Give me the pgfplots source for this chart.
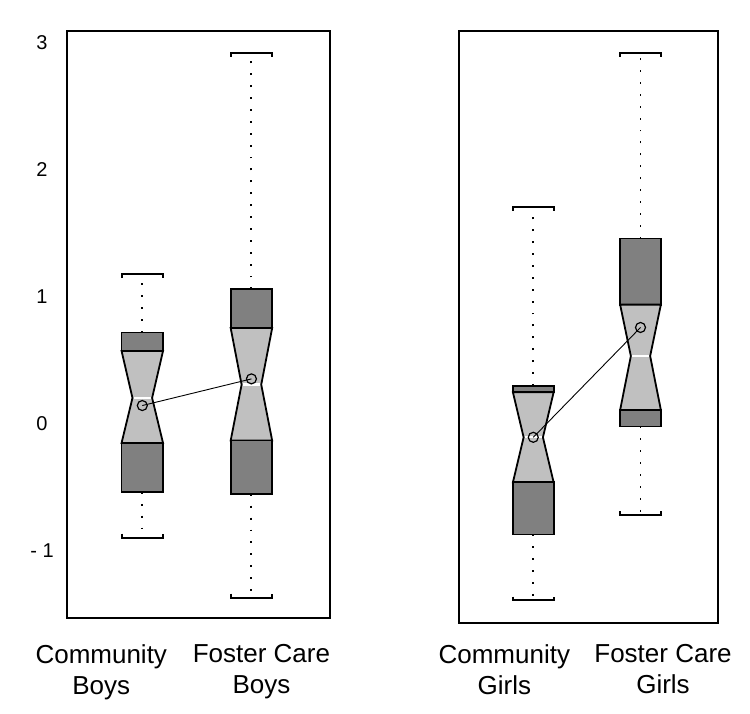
\documentclass[border=0pt]{standalone}
\usepackage{pgfplots}
\pgfplotsset{compat=1.18}
\usepackage{fontspec}
\setmainfont{Liberation Sans}
\definecolor{dk}{RGB}{128,128,128}
\definecolor{lt}{RGB}{192,192,192}
\pgfplotsset{
  panel/.style={scale only axis, anchor=south west, xmin=0.31, xmax=2.72,
    axis line style={line width=2pt}, major tick length=0pt, clip=false,
    xtick pos=bottom,
    xticklabel style={font=\fontsize{26}{31.5}\selectfont, align=center, anchor=north, inner sep=0pt}},
  dkb/.style={fill=dk, draw=black, line width=1.8pt},
  ltb/.style={fill=lt, draw=black, line width=1.8pt},
  whisk/.style={black, line width=1.9pt, dash pattern=on 1.9pt off 10pt},
  capst/.style={black, line width=2pt},
  med/.style={white, line width=2.2pt},
  meanl/.style={black, line width=0.9pt},
  meanm/.style={only marks, mark=o, mark size=5pt, mark options={black, line width=1.2pt}},
}
\begin{document}
\begin{tikzpicture}
\useasboundingbox (0pt,0pt) rectangle (750pt,714pt);
% ---------------- left panel: boys ----------------
\begin{axis}[panel, at={(67pt,96pt)}, width=263pt, height=587.3pt,
  ymin=-1.528, ymax=3.097,
  ytick={-1,0,1,2,3}, yticklabels={- 1,0,1,2,3},
  yticklabel style={font=\fontsize{20}{22}\selectfont, anchor=center, xshift=-25pt, inner sep=0pt},
  xtick={0.624,2.092}, xticklabels={Community\\Boys,Foster Care\\Boys},
  xticklabel style={yshift=-26pt}]
% whiskers
\addplot[whisk] coordinates {(1,0.72) (1,1.18)};
\addplot[whisk] coordinates {(1,-0.535) (1,-0.895)};
\addplot[whisk] coordinates {(2,1.06) (2,2.924)};
\addplot[whisk] coordinates {(2,-0.55) (2,-1.368)};
% caps
\addplot[capst] coordinates {(0.81,1.149) (0.81,1.18) (1.19,1.18) (1.19,1.149)};
\addplot[capst] coordinates {(0.81,-0.864) (0.81,-0.895) (1.19,-0.895) (1.19,-0.864)};
\addplot[capst] coordinates {(1.81,2.893) (1.81,2.924) (2.19,2.924) (2.19,2.893)};
\addplot[capst] coordinates {(1.81,-1.337) (1.81,-1.368) (2.19,-1.368) (2.19,-1.337)};
% Community Boys
\addplot[dkb] coordinates {(0.81,0.575) (0.81,0.72) (1.19,0.72) (1.19,0.575)} -- cycle;
\addplot[ltb] coordinates {(0.81,0.575) (0.91,0.205) (0.81,-0.15) (1.19,-0.15) (1.09,0.205) (1.19,0.575)} -- cycle;
\addplot[dkb] coordinates {(0.81,-0.535) (0.81,-0.15) (1.19,-0.15) (1.19,-0.535)} -- cycle;
\addplot[med] coordinates {(0.92,0.205) (1.08,0.205)};
% Foster Care Boys
\addplot[dkb] coordinates {(1.81,0.755) (1.81,1.06) (2.19,1.06) (2.19,0.755)} -- cycle;
\addplot[ltb] coordinates {(1.81,0.755) (1.91,0.31) (1.81,-0.13) (2.19,-0.13) (2.09,0.31) (2.19,0.755)} -- cycle;
\addplot[dkb] coordinates {(1.81,-0.55) (1.81,-0.13) (2.19,-0.13) (2.19,-0.55)} -- cycle;
\addplot[med] coordinates {(1.92,0.31) (2.08,0.31)};
% means
\addplot[meanl] coordinates {(1,0.145) (2,0.355)};
\addplot[meanm] coordinates {(1,0.145) (2,0.355)};
\end{axis}
% ---------------- right panel: girls ----------------
\begin{axis}[panel, at={(459.3pt,91.3pt)}, width=258.4pt, height=591.7pt,
  ymin=-1.565, ymax=3.095, ytick=\empty,
  xtick={0.73,2.21}, xticklabels={Community\\Girls,Foster Care\\Girls},
  xticklabel style={yshift=-21.3pt}]
% whiskers
\addplot[whisk] coordinates {(1,0.30) (1,1.71)};
\addplot[whisk] coordinates {(1,-0.87) (1,-1.39)};
\addplot[whisk] coordinates {(2,1.46) (2,2.924)};
\addplot[whisk] coordinates {(2,-0.02) (2,-0.717)};
% caps
\addplot[capst] coordinates {(0.81,1.679) (0.81,1.71) (1.19,1.71) (1.19,1.679)};
\addplot[capst] coordinates {(0.81,-1.359) (0.81,-1.39) (1.19,-1.39) (1.19,-1.359)};
\addplot[capst] coordinates {(1.81,2.893) (1.81,2.924) (2.19,2.924) (2.19,2.893)};
\addplot[capst] coordinates {(1.81,-0.686) (1.81,-0.717) (2.19,-0.717) (2.19,-0.686)};
% Community Girls
\addplot[dkb] coordinates {(0.81,0.25) (0.81,0.30) (1.19,0.30) (1.19,0.25)} -- cycle;
\addplot[ltb] coordinates {(0.81,0.25) (0.91,-0.105) (0.81,-0.46) (1.19,-0.46) (1.09,-0.105) (1.19,0.25)} -- cycle;
\addplot[dkb] coordinates {(0.81,-0.87) (0.81,-0.46) (1.19,-0.46) (1.19,-0.87)} -- cycle;
\addplot[med] coordinates {(0.92,-0.105) (1.08,-0.105)};
% Foster Care Girls
\addplot[dkb] coordinates {(1.81,0.94) (1.81,1.46) (2.19,1.46) (2.19,0.94)} -- cycle;
\addplot[ltb] coordinates {(1.81,0.94) (1.91,0.535) (1.81,0.11) (2.19,0.11) (2.09,0.535) (2.19,0.94)} -- cycle;
\addplot[dkb] coordinates {(1.81,-0.02) (1.81,0.11) (2.19,0.11) (2.19,-0.02)} -- cycle;
\addplot[med] coordinates {(1.92,0.535) (2.08,0.535)};
% means
\addplot[meanl] coordinates {(1,-0.105) (2,0.76)};
\addplot[meanm] coordinates {(1,-0.105) (2,0.76)};
\end{axis}
\end{tikzpicture}
\end{document}
